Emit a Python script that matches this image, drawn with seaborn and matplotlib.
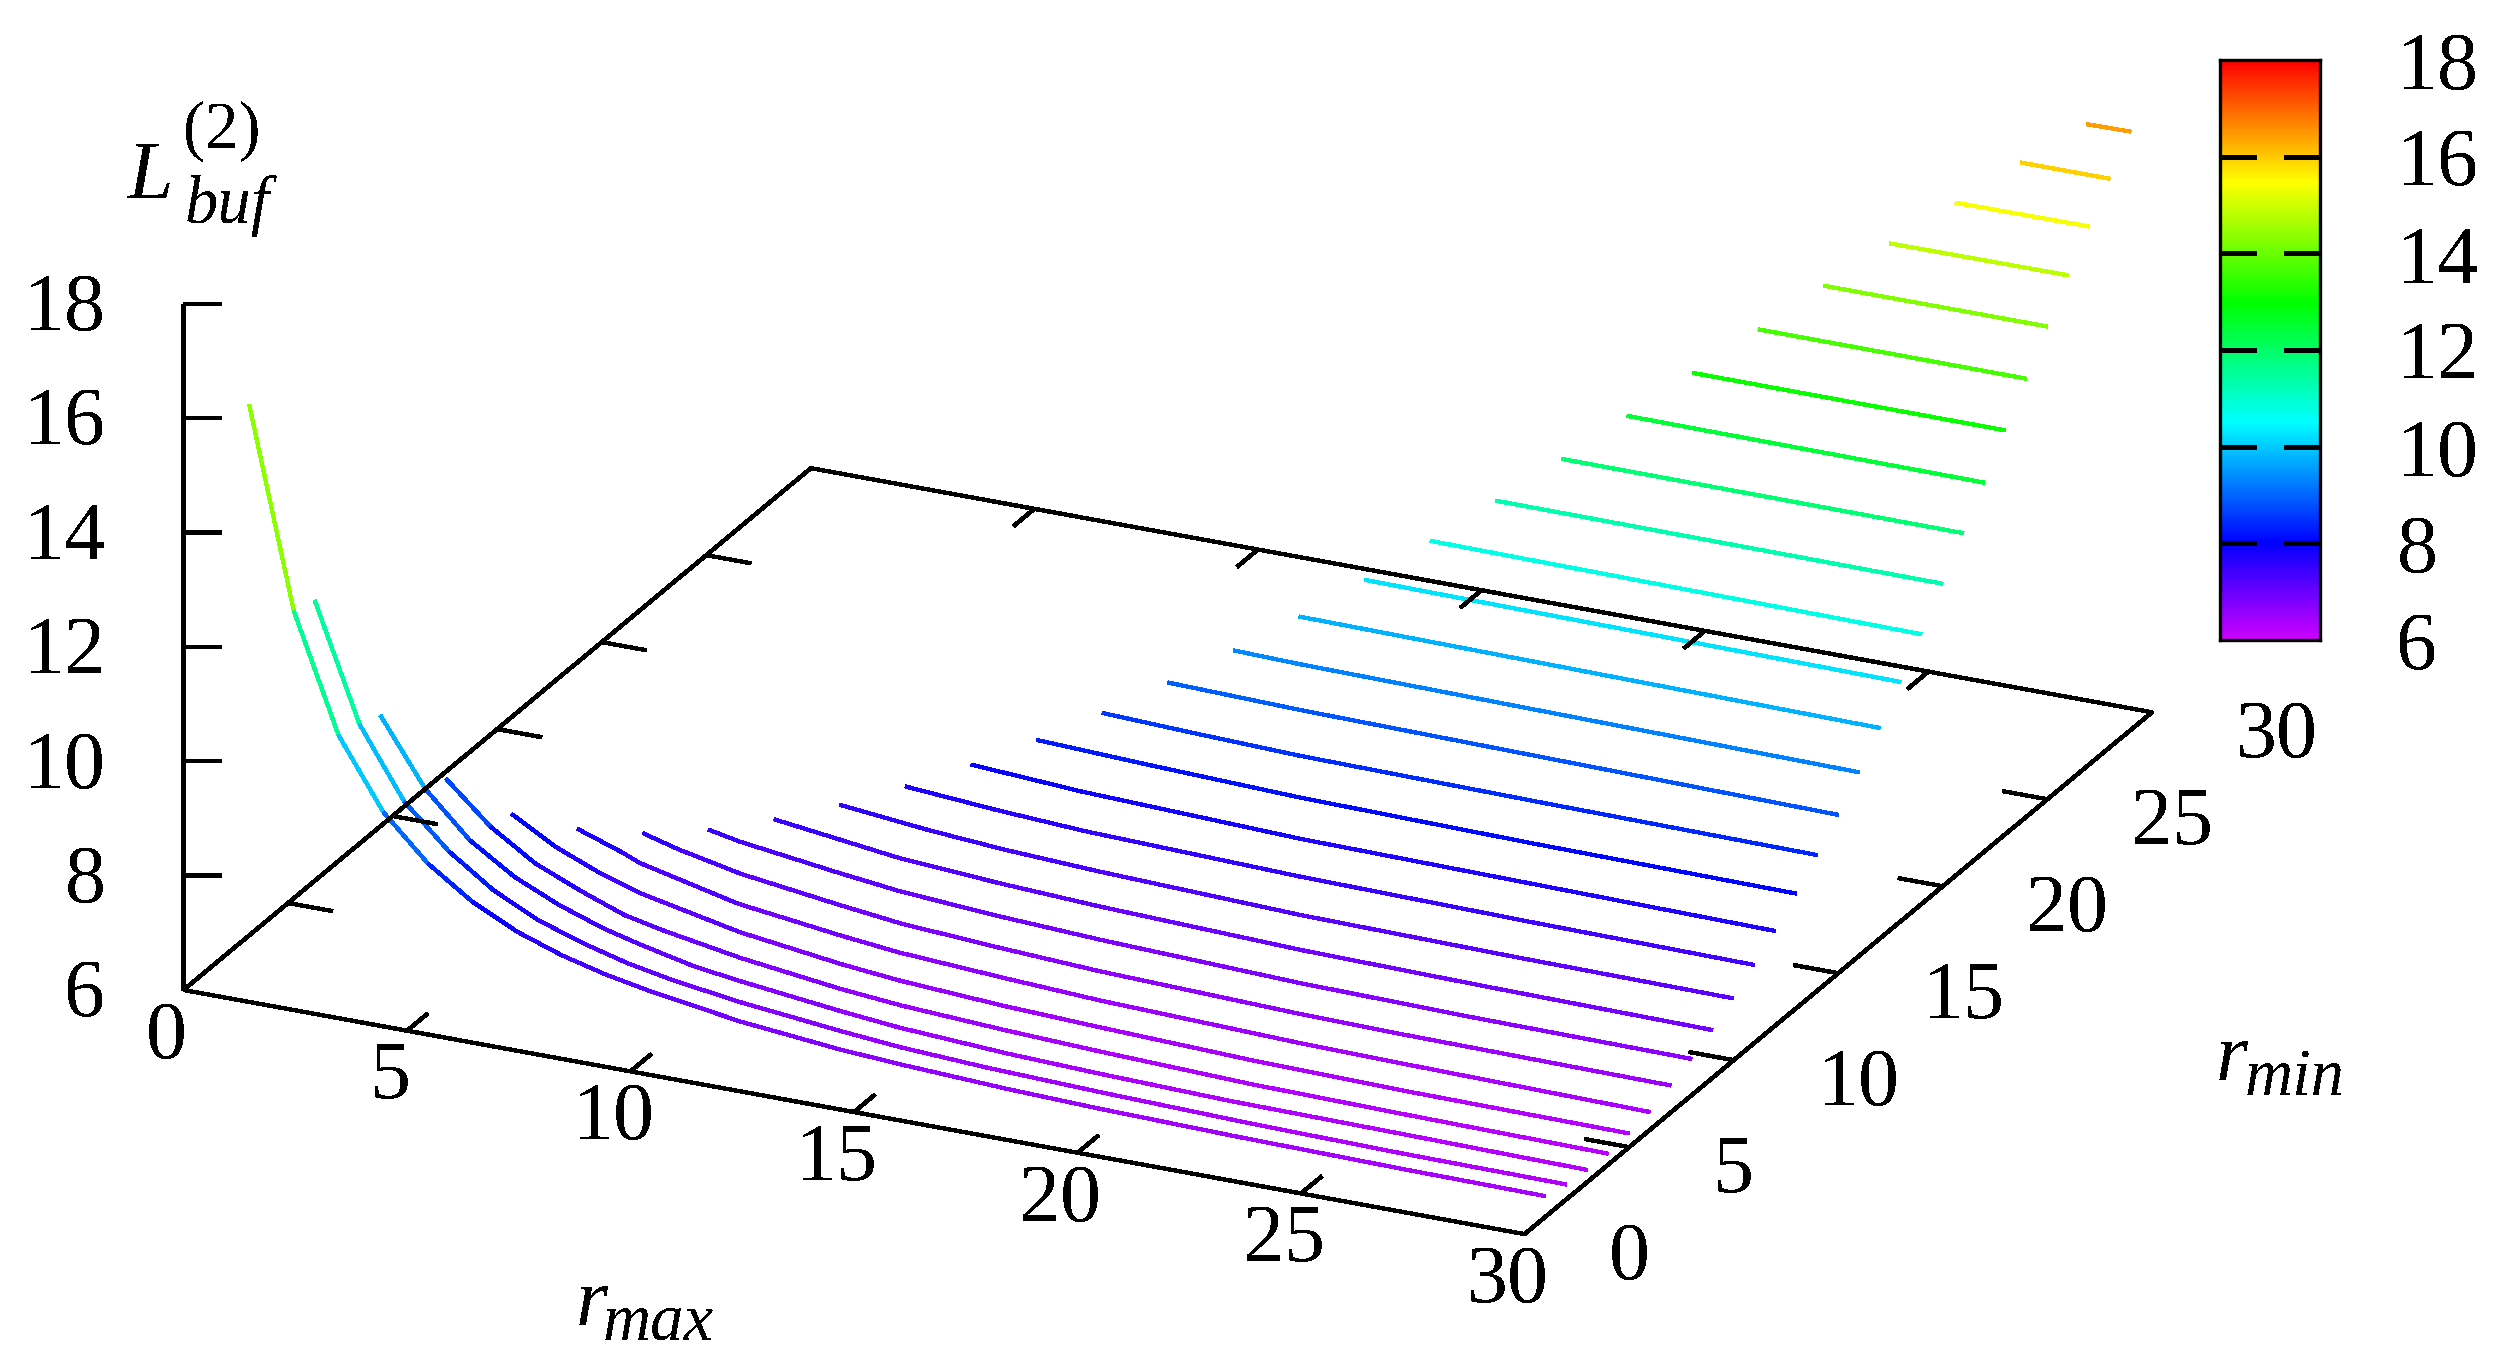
import matplotlib
matplotlib.use("Agg")

import matplotlib.pyplot as plt
import numpy as np
import seaborn as sns
from matplotlib.colors import LinearSegmentedColormap, Normalize
from mpl_toolkits.mplot3d import proj3d
from mpl_toolkits.mplot3d.art3d import Line3DCollection

# ---------------------------------------------------------------------------
# DATA
# ---------------------------------------------------------------------------
RMIN = list(range(1, 30))

RMAX_NODES = [
    [1, 2, 3, 4, 5, 6, 7, 8, 9, 10, 11, 12, 14.2, 15.6, 18, 20, 23, 26.8, 30],
    [2, 3, 4, 5, 6, 7, 8, 9, 10, 11.5, 13.8, 15.1, 17, 19.6, 23, 26.3, 30],
    [3, 4, 5, 6, 7, 8, 8.8, 10, 11, 13.3, 14.6, 17, 19.1, 22, 25.8, 30],
    [4, 5, 6, 7, 8, 8.9, 10.6, 12.8, 14.2, 16.5, 18.6, 22, 25.4, 30],
    [5, 6, 7, 7.9, 10.1, 12.4, 13.7, 16, 18.2, 21.5, 24.9, 30],
    [6, 7, 7.4, 9.6, 11.9, 13.2, 15.5, 17.7, 22.2, 24.4, 30],
    [7, 7.8, 9.2, 11.4, 12.8, 15, 17.2, 21.7, 23.9, 30],
    [8, 8.7, 10.9, 12.3, 14.5, 16.8, 21.2, 25, 30],
    [9, 10.5, 11.8, 14, 16.3, 20.8, 25, 30],
    [10, 12, 13.7, 15.8, 20.3, 25, 30],
    [11, 13, 15, 19.8, 25, 30],
    [12, 14.5, 19.4, 30],
    [13, 15.5, 18.9, 24, 30],
    [14, 16, 18.4, 24, 30],
    [15, 18, 30],
    [16, 17.5, 30],
    [17, 30],
    [18, 30],
    [19, 30],
    [20, 30],
    [21, 30],
    [22, 30],
    [23, 30],
    [24, 30],
    [25, 30],
    [26, 30],
    [27, 30],
    [28, 30],
    [29, 30],
]

LBUF = [
    [16.08, 12.61, 10.58, 9.38, 8.62, 8.09, 7.71, 7.44, 7.24, 7.09, 6.97, 6.85, 6.68, 6.61, 6.52, 6.47, 6.42, 6.38, 6.36],
    [12.49, 10.47, 9.26, 8.53, 7.99, 7.61, 7.35, 7.14, 6.99, 6.82, 6.63, 6.54, 6.46, 6.39, 6.32, 6.28, 6.26],
    [10.32, 9.18, 8.42, 7.92, 7.57, 7.30, 7.14, 6.93, 6.82, 6.61, 6.51, 6.40, 6.34, 6.28, 6.25, 6.21],
    [9.05, 8.35, 7.85, 7.52, 7.23, 7.08, 6.85, 6.63, 6.53, 6.43, 6.36, 6.27, 6.23, 6.19],
    [8.27, 7.83, 7.51, 7.29, 6.93, 6.69, 6.59, 6.48, 6.41, 6.32, 6.27, 6.24],
    [7.85, 7.58, 7.45, 7.05, 6.82, 6.71, 6.60, 6.51, 6.40, 6.37, 6.31],
    [7.61, 7.44, 7.21, 6.98, 6.85, 6.74, 6.65, 6.54, 6.51, 6.47],
    [7.51, 7.40, 7.17, 7.04, 6.92, 6.83, 6.71, 6.66, 6.63],
    [7.53, 7.38, 7.25, 7.13, 7.04, 6.92, 6.87, 6.83],
    [7.62, 7.46, 7.36, 7.28, 7.16, 7.11, 7.08],
    [7.78, 7.66, 7.57, 7.46, 7.40, 7.36],
    [8.00, 7.88, 7.75, 7.65],
    [8.27, 8.19, 8.10, 8.04, 8.00],
    [8.58, 8.52, 8.46, 8.41, 8.37],
    [8.95, 8.89, 8.77],
    [9.35, 9.32, 9.21],
    [9.78, 9.68],
    [10.26, 10.18],
    [10.78, 10.71],
    [11.32, 11.29],
    [11.89, 11.87],
    [12.48, 12.45],
    [13.07, 13.06],
    [13.67, 13.66],
    [14.27, 14.27],
    [14.85, 14.86],
    [15.40, 15.41],
    [15.94, 15.94],
    [16.45, 16.46],
]

R_TICKS = [0, 5, 10, 15, 20, 25, 30]
Z_TICKS = [6, 8, 10, 12, 14, 16, 18]

PALETTE_LEVELS = [6, 8, 10.5, 13, 15.5, 18]
PALETTE_COLORS = ["#cc00ff", "#0000ff", "#00ffff", "#00ff00", "#ffff00", "#ff0000"]

# ---------------------------------------------------------------------------
# CONFIGURATION
# ---------------------------------------------------------------------------
W, H = 2503, 1364
FONT = "Liberation Serif"
TICK_SIZE = 59
SUB_SIZE = 48
LW = 2.4

sns.set_theme(style="white", rc={"text.color": "black", "xtick.color": "black",
                                 "ytick.color": "black", "axes.edgecolor": "black"})
plt.rcParams["font.family"] = [FONT]
plt.rcParams["text.antialiased"] = False

zmin, zmax = Z_TICKS[0], Z_TICKS[-1]
norm = Normalize(zmin, zmax)
cmap = LinearSegmentedColormap.from_list(
    "pm3d", [(norm(v), c) for v, c in zip(PALETTE_LEVELS, PALETTE_COLORS)], N=512
)

fig = plt.figure(figsize=(W / 100, H / 100), dpi=100, facecolor="white")


def px_text(x, y, s, size, style="normal", ha="left", va="baseline"):
    # position given in top-down image pixels
    fig.text(x / W, 1 - y / H, s, fontsize=size, style=style, ha=ha, va=va, family=FONT)


# ---------------------------------------------------------------------------
# 3D BOX
# ---------------------------------------------------------------------------
ax = fig.add_axes([0, 0, 1, 1], projection="3d", proj_type="ortho", computed_zorder=False)
ax.view_init(elev=22.9, azim=-64.93)
ax.set_box_aspect((1, 1, 0.503))
ax.set_axis_off()
ax.patch.set_alpha(0)

# curves, one segment per colour like gnuplot's pm3d lines
segments, seg_colors = [], []
for rmin, nodes, values in zip(RMIN, RMAX_NODES, LBUF):
    for i in range(len(nodes) - 1):
        segments.append([(nodes[i], rmin, values[i]), (nodes[i + 1], rmin, values[i + 1])])
        seg_colors.append(cmap(norm((values[i] + values[i + 1]) / 2)))

curves = Line3DCollection(segments, colors=seg_colors, linewidths=2.3, zorder=2,
                          antialiaseds=False, capstyle="butt")
ax.add_collection3d(curves, autolim=False)


def edge(xs, ys, zs):
    ax.plot(xs, ys, zs, color="black", lw=LW, zorder=3, antialiased=False, solid_capstyle="butt")


# base frame and z axis
edge([0, 30, 30, 0, 0], [0, 0, 30, 30, 0], [zmin] * 5)
edge([0, 0], [0, 0], [zmin, zmax])

# ticks on the base, mirrored on the far sides
for t in R_TICKS[1:-1]:
    edge([t, t], [0, 1], [zmin, zmin])
    edge([t, t], [30, 29], [zmin, zmin])
    edge([0, 1], [t, t], [zmin, zmin])
    edge([30, 29], [t, t], [zmin, zmin])
for z in Z_TICKS[1:]:
    edge([0, 0.85], [0, 0], [z, z + 0.121])

for t in R_TICKS:
    ax.text(t, -0.81, zmin - 0.59, str(t), fontsize=TICK_SIZE, ha="center", va="center")
    ax.text(31.88, t, zmin - 0.17, str(t), fontsize=TICK_SIZE, ha="left", va="center")
for z in Z_TICKS:
    ax.text(-1.74, 0, z - 0.36, str(z), fontsize=TICK_SIZE, ha="right", va="center")

ax.set_xlim(0, 30)
ax.set_ylim(0, 30)
ax.set_zlim(zmin, zmax)
for axis in (ax.xaxis, ax.yaxis, ax.zaxis):
    axis.set_ticks([])
    axis.set_visible(False)


def corner_px(x, y, z):
    X, Y, _ = proj3d.proj_transform(x, y, z, ax.get_proj())
    return ax.transData.transform((X, Y))


def place(side, cx, cy):
    ax.set_position([(cx - side / 2) / W, (cy - side / 2) / H, side / W, side / H])
    ax.apply_aspect()


# fit the box onto its place in the image
ORIGIN_PX = np.array([183.5, H - 990.0])
XEND_PX = np.array([1524.6, H - 1234.0])
side, cx, cy = 2500.0, W / 2, H / 2
place(side, cx, cy)
p0, p1 = corner_px(0, 0, zmin), corner_px(30, 0, zmin)
side *= np.linalg.norm(XEND_PX - ORIGIN_PX) / np.linalg.norm(p1 - p0)
place(side, cx, cy)
p0 = corner_px(0, 0, zmin)
cx += ORIGIN_PX[0] - p0[0]
cy += ORIGIN_PX[1] - p0[1]
place(side, cx, cy)

# ---------------------------------------------------------------------------
# COLOUR BOX
# ---------------------------------------------------------------------------
CB_LEFT, CB_RIGHT, CB_TOP, CB_BOTTOM = 2220, 2320, 60, 640
cax = fig.add_axes([CB_LEFT / W, 1 - CB_BOTTOM / H, (CB_RIGHT - CB_LEFT) / W, (CB_BOTTOM - CB_TOP) / H])
n_levels = 256
levels = np.linspace(zmax, zmin, n_levels).reshape(-1, 1)
sns.heatmap(levels, ax=cax, cmap=cmap, vmin=zmin, vmax=zmax, cbar=False,
            xticklabels=False, yticklabels=False)
tick_pos = [(zmax - z) / (zmax - zmin) * n_levels for z in Z_TICKS]
cax.hlines(tick_pos[1:-1], 0, 0.36, color="black", lw=2.2, antialiased=False)
cax.hlines(tick_pos[1:-1], 0.64, 1, color="black", lw=2.2, antialiased=False)
cax.yaxis.tick_right()
cax.set_yticks(tick_pos)
cax.set_yticklabels([str(z) for z in Z_TICKS], fontsize=TICK_SIZE, rotation=0,
                    ha="left", va="center_baseline")
cax.tick_params(axis="y", length=0, pad=55)
for spine in cax.spines.values():
    spine.set_visible(True)
    spine.set_linewidth(LW)
    spine.set_color("black")

# ---------------------------------------------------------------------------
# AXIS NAMES
# ---------------------------------------------------------------------------
px_text(128, 198, "L", TICK_SIZE, style="italic")
px_text(183, 148, "(2)", SUB_SIZE)
px_text(185, 223, "buf", SUB_SIZE, style="italic")

px_text(576, 1325, "r", TICK_SIZE, style="italic")
px_text(603, 1340, "max", SUB_SIZE, style="italic")

px_text(2216, 1080, "r", TICK_SIZE, style="italic")
px_text(2245, 1095, "min", SUB_SIZE, style="italic")

fig.savefig("out.png", dpi=100, facecolor="white")
